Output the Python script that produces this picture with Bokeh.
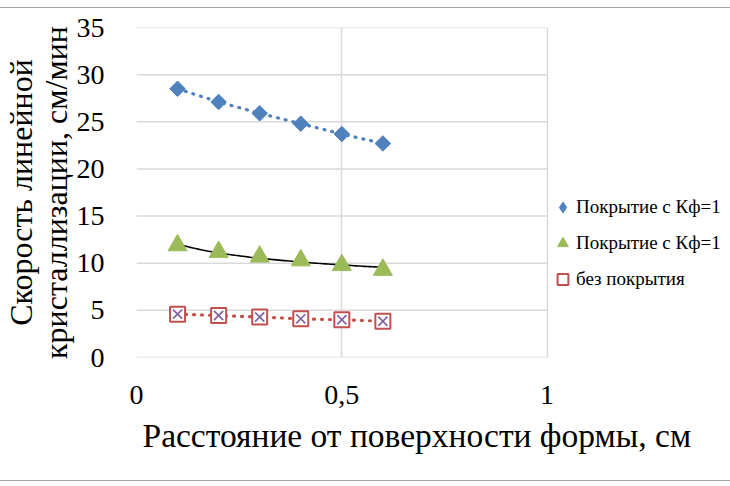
import numpy as np
from bokeh.plotting import figure
from bokeh.models import Range1d, FixedTicker, Legend, LegendItem, Title
from bokeh.embed import file_html
from bokeh.resources import INLINE

# ---- data ----
distance = [0.1, 0.2, 0.3, 0.4, 0.5, 0.6]
speed_coat_a = [28.5, 27.1, 25.9, 24.8, 23.7, 22.7]
speed_coat_b = [11.9, 11.2, 10.7, 10.3, 9.8, 9.3]
speed_none = [4.6, 4.45, 4.3, 4.1, 4.0, 3.85]
legend_labels = ["Покрытие с Кф=1", "Покрытие с Кф=1", "без покрытия"]
x_ticks = [0, 0.5, 1]
x_tick_labels = ["0", "0,5", "1"]
y_ticks = [0, 5, 10, 15, 20, 25, 30, 35]
x_title = "Расстояние от поверхности формы, см"
y_title = "Скорость линейной\nкристаллизации, см/мин"

BLUE = "#4F81BD"
GREEN = "#9BBB59"
RED = "#C0504D"
PURPLE = "#8064A2"
GRID = "#D9D9D9"
FONT = "Liberation Serif"

# layout (pixels): plot frame from x=134 (value 0) to x=546 (value 1);
# the frame is extended to the right edge so the legend can sit there.
FIG_W, FIG_H = 730, 474
FRAME_LEFT, AXIS_PX = 134, 412
x_end = x_ticks[-1] * (FIG_W - FRAME_LEFT) / AXIS_PX

p = figure(width=FIG_W, height=FIG_H, output_backend="svg", toolbar_location=None,
           x_range=Range1d(0, x_end), y_range=Range1d(0, y_ticks[-1]),
           min_border_left=FRAME_LEFT, min_border_right=0, min_border_top=19,
           min_border_bottom=125)
p.styles = {"margin-top": "7px", "border-top": "1px solid #A6A6A6",
            "border-bottom": "1px solid #A6A6A6"}
p.outline_line_color = None
p.background_fill_color = "white"

for ax in [p.xaxis[0], p.yaxis[0]]:
    ax.axis_line_color = None
    ax.major_tick_line_color = None
    ax.minor_tick_line_color = None
    ax.major_label_text_font = FONT
    ax.major_label_text_font_style = "normal"
    ax.major_label_text_font_size = "28px"
    ax.major_label_text_color = "black"

p.xaxis.ticker = FixedTicker(ticks=x_ticks)
p.xaxis.major_label_overrides = {t: s for t, s in zip(x_ticks, x_tick_labels)}
p.xaxis.major_label_standoff = 22
p.yaxis.ticker = FixedTicker(ticks=y_ticks)
p.yaxis.major_label_standoff = 26

p.yaxis.axis_label = y_title
p.yaxis.axis_label_text_font = FONT
p.yaxis.axis_label_text_font_size = "32px"
p.yaxis.axis_label_text_font_style = "normal"
p.yaxis.axis_label_text_color = "black"
p.yaxis.axis_label_text_line_height = 0.95
p.yaxis.axis_label_standoff = 0

p.xgrid.grid_line_color = GRID
p.xgrid.grid_line_width = 1.5
p.ygrid.visible = False
# horizontal grid lines only across the value range 0..1
p.segment(x0=[x_ticks[0]] * len(y_ticks), x1=[x_ticks[-1]] * len(y_ticks),
          y0=y_ticks, y1=y_ticks, line_color=GRID, line_width=1.5)

# x title, placed like the reference
tx = Title(text=x_title, align="left", offset=6, text_font=FONT,
           text_font_size="33.5px", text_font_style="normal", text_color="black",
           standoff=16)
p.add_layout(tx, "below")

# series A: blue diamonds with dotted line
p.line(distance, speed_coat_a, line_color=BLUE, line_width=3.2,
       line_dash="1 7", line_cap="round")
p.scatter(distance, speed_coat_a, marker="square", angle=np.pi / 4, size=11,
          fill_color=BLUE, line_color=BLUE)
# same series as a diamond glyph, used for its legend symbol
ra = p.scatter(distance, speed_coat_a, marker="diamond", size=15,
               fill_color=BLUE, line_color=BLUE, visible=False)

# series B: green triangles with logarithmic trend line
coef = np.polyfit(np.log(distance), speed_coat_b, 1)
xt = np.linspace(distance[0], distance[-1], 80)
p.line(xt, coef[0] * np.log(xt) + coef[1], line_color="black", line_width=1.6)
rb = p.scatter(distance, speed_coat_b, marker="triangle", size=19,
               fill_color=GREEN, line_color=GREEN)

# series C: red squares with cross, dotted line
p.line(distance, speed_none, line_color=RED, line_width=3.2,
       line_dash="1 7", line_cap="round")
rc = p.scatter(distance, speed_none, marker="square", size=15,
               fill_color="white", line_color=RED, line_width=2)
p.scatter(distance, speed_none, marker="x", size=13, line_color=PURPLE,
          line_width=1.7)

legend = Legend(items=[LegendItem(label=legend_labels[0], renderers=[ra]),
                       LegendItem(label=legend_labels[1], renderers=[rb]),
                       LegendItem(label=legend_labels[2], renderers=[rc])],
                location=(413, 63), border_line_color=None,
                background_fill_alpha=0, inactive_fill_alpha=0,
                padding=0, margin=0, spacing=6,
                label_text_font=FONT, label_text_font_style="normal",
                label_text_font_size="19px",
                label_text_color="black", glyph_width=27, glyph_height=30,
                label_height=30, label_standoff=0, click_policy="none")
p.add_layout(legend, "center")

open("out.html", "w").write(file_html(p, INLINE))
